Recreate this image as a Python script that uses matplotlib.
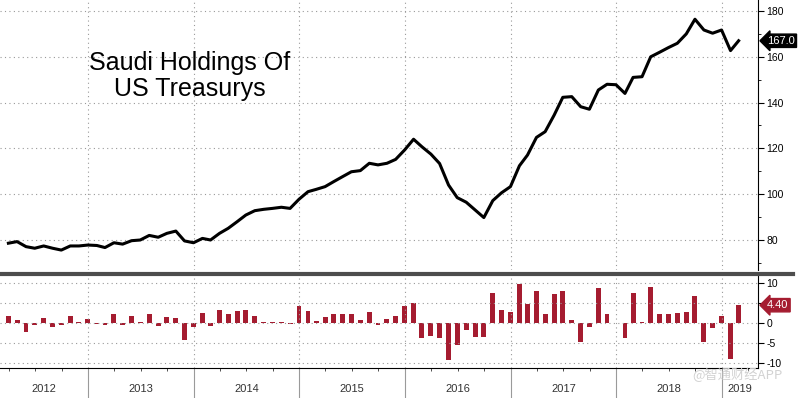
import numpy as np
import pandas as pd
import matplotlib
matplotlib.use('Agg')
import matplotlib.pyplot as plt
import matplotlib.dates as mdates
import matplotlib.transforms as mtransforms
from matplotlib.lines import Line2D

plt.rcParams['font.family'] = ['Liberation Sans', 'DejaVu Sans']
plt.rcParams['axes.unicode_minus'] = False

# Saudi holdings of US Treasuries, $bn, monthly Mar 2012 - Feb 2019
holdings = [78.6, 79.3, 77.1, 76.4, 77.4, 76.4, 75.6, 77.4, 77.4, 77.8,
            77.6, 76.7, 78.8, 78.2, 79.7, 80.0, 82.0, 81.2, 82.9, 83.9,
            79.6, 78.8, 80.7, 80.0, 82.9, 85.1, 88.0, 90.9, 92.8, 93.4,
            93.8, 94.3, 93.8, 97.8, 101.1, 102.1, 103.3, 105.5, 107.7, 109.8,
            110.3, 113.5, 112.8, 113.5, 115.2, 119.3, 124.0, 120.7, 117.5, 113.4,
            104.0, 98.5, 96.5, 93.1, 89.8, 97.2, 100.6, 103.3, 112.4, 117.1,
            124.8, 127.3, 134.5, 142.3, 142.6, 138.2, 137.1, 145.5, 148.0, 147.8,
            144.0, 151.0, 151.3, 160.0, 162.0, 164.0, 165.9, 170.0, 176.4, 171.7,
            170.3, 171.7, 162.7, 167.0]

# month on month change, $bn
changes = [1.7, 0.7, -2.4, -0.5, 1.1, -1.1, -0.5, 1.7, 0.1, 0.9,
           -0.2, -0.6, 2.1, -0.5, 1.7, 0.2, 2.1, -0.9, 1.5, 1.3,
           -4.3, -1.1, 2.5, -0.8, 3.2, 2.3, 2.9, 3.2, 1.7, 0.2,
           0.1, 0.1, -0.2, 4.3, 2.9, 0.5, 1.5, 2.25, 2.1, 2.3,
           0.7, 2.75, -0.5, 0.9, 1.7, 4.2, 4.9, -3.75, -3.2, -3.8,
           -9.2, -5.6, -1.7, -3.6, -3.6, 7.5, 3.3, 2.75, 9.8, 4.6,
           7.9, 2.25, 7.25, 7.9, 0.7, -4.8, -1.1, 8.6, 2.25, 0.0,
           -3.75, 7.5, 0.2, 8.9, 2.25, 2.1, 2.5, 2.75, 6.7, -4.8,
           -1.25, 1.7, -9.0, 4.4]

years = [2012, 2013, 2014, 2015, 2016, 2017, 2018, 2019]

# month-end dates
months = pd.date_range('2012-04-01', periods=len(holdings), freq='MS') - pd.Timedelta(days=1)

x_left = pd.Timestamp('2012-03-02')
x_right = pd.Timestamp('2019-05-06')

grid_kw = dict(color='#999999', linestyle=(0, (1, 3)), linewidth=0.8)
bar_red = '#a51c30'

fig = plt.figure(figsize=(8, 3.98), dpi=100)
ax1 = fig.add_axes([0, 1 - 270 / 398, 758 / 800, 270 / 398])
ax2 = fig.add_axes([0, 1 - 368 / 398, 758 / 800, 92 / 398], sharex=ax1)

# top panel: holdings line
ax1.plot(months, holdings, color='black', lw=2.2)
ax1.set_xlim(x_left, x_right)
ax1.set_ylim(66.9, 184.8)
ax1.yaxis.tick_right()
ax1.set_yticks(range(80, 181, 20))
ax1.set_yticks(range(70, 181, 20), minor=True)
ax1.tick_params(axis='y', which='major', direction='out', length=4, width=0.8, labelsize=7.5, pad=2)
ax1.tick_params(axis='y', which='minor', direction='out', length=2.5, width=0.6)
ax1.xaxis.set_major_locator(mdates.YearLocator())
ax1.xaxis.set_minor_locator(mdates.MonthLocator(bymonth=[1, 4, 7, 10]))
ax1.tick_params(axis='x', which='both', length=0, labelbottom=False)
ax1.grid(True, which='major', **grid_kw)
for side in ['top', 'left', 'bottom']:
    ax1.spines[side].set_visible(False)
ax1.spines['right'].set_linewidth(0.8)

ax1.text(190 / 758, 1 - 76 / 270, 'Saudi Holdings Of\nUS Treasurys', transform=ax1.transAxes,
         fontsize=18, ha='center', va='center', linespacing=1.15)

tr1 = mtransforms.blended_transform_factory(ax1.transAxes, ax1.transData)
ax1.text(1.012, holdings[-1], f'{holdings[-1]:.1f}', transform=tr1, color='white', fontsize=8,
         ha='left', va='center', bbox=dict(boxstyle='larrow,pad=0.15', fc='black', ec='black'))

# bottom panel: monthly change bars
ax2.bar(months, changes, width=17, color=bar_red)
ax2.set_ylim(-11.3, 11.7)
ax2.yaxis.tick_right()
ax2.set_yticks([-10, -5, 0, 5, 10])
# the 5 label sits behind the last-value box in the original
ax2.set_yticklabels(['-10', '-5', '0', '', '10'])
ax2.tick_params(axis='y', direction='out', length=4, width=0.8, labelsize=7.5, pad=2)
ax2.tick_params(axis='x', which='major', direction='out', length=21.6, width=0.8, color='#9a9a9a', labelbottom=False)
ax2.tick_params(axis='x', which='minor', direction='out', length=2.5, width=0.6, color='#333333')
ax2.grid(True, which='major', **grid_kw)
for side in ['top', 'left']:
    ax2.spines[side].set_visible(False)
ax2.spines['right'].set_linewidth(0.8)
ax2.spines['bottom'].set_linewidth(0.8)

tr2 = mtransforms.blended_transform_factory(ax2.transAxes, ax2.transData)
ax2.text(1.012, changes[-1], f'{changes[-1]:.2f}', transform=tr2, color='white', fontsize=8,
         ha='left', va='center', bbox=dict(boxstyle='larrow,pad=0.15', fc=bar_red, ec=bar_red))

# year labels centred on the visible part of each year
tr_lab = mtransforms.blended_transform_factory(ax2.transData, ax2.transAxes)
for yr in years:
    lo = max(pd.Timestamp(yr, 1, 1), x_left)
    hi = min(pd.Timestamp(yr + 1, 1, 1), x_right)
    mid = lo + (hi - lo) / 2
    ax2.text(mdates.date2num(mid), -0.23, str(yr), transform=tr_lab, ha='center', va='center',
             fontsize=8, color='#333333')

# thick separator between panels
fig.add_artist(Line2D([0, 793 / 800], [1 - 273.5 / 398] * 2, color='#4d4d4d', lw=3.0))

fig.text(737 / 800, 1 - 375 / 398, '@智通财经APP', family=['Noto Sans CJK SC', 'DejaVu Sans'],
         fontsize=9.5, color='#d2d2d2', ha='center', va='center')

fig.savefig('out.png', dpi=100)
